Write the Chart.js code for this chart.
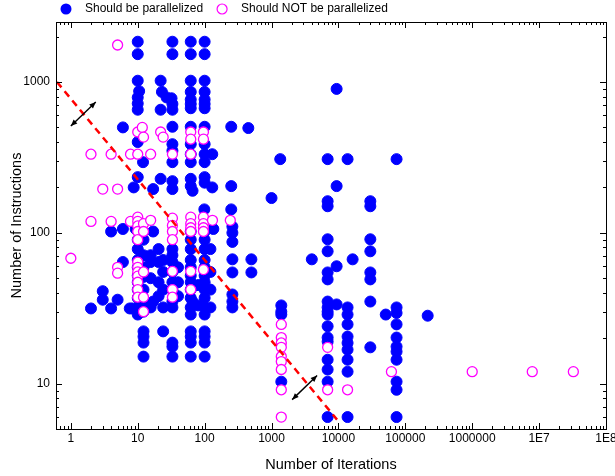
<!DOCTYPE html>
<html>
<head>
<meta charset="utf-8">
<script src="https://cdn.jsdelivr.net/npm/chart.js@4/dist/chart.umd.min.js"></script>
<style>
  html, body { margin: 0; padding: 0; background: #fff; }
  canvas { display: block; }
</style>
</head>
<body>
<canvas id="chart" width="615" height="476"></canvas>
<script>
// --- DATA ([iterations, instructions]) ---
const shouldParallelize = [
  // top rows
  [10, 1850], [10, 1530], [33, 1850], [33, 1530], [62, 1850], [62, 1530], [100, 1850], [100, 1530],
  [10, 1020], [22, 1020], [62, 1020], [100, 1020],
  [10.5, 870], [10, 790], [10, 720], [10, 655], [23, 860], [27, 790], [32, 780], [22, 655], [33, 655], [33, 715],
  [62, 860], [62, 765], [62, 715], [62, 670], [100, 860], [100, 765], [100, 715], [100, 670],
  [9400, 900],
  // ~500
  [6, 500], [33, 505], [62, 505], [100, 505], [250, 505], [450, 495],
  // 400 - 200
  [10, 400], [33, 387], [62, 387], [100, 387], [33, 350], [62, 332], [100, 332], [130, 332],
  [12, 294], [33, 294], [62, 294], [100, 294],
  [10, 234], [22, 228], [33, 220], [62, 228], [100, 234], [100, 215], [8.7, 200], [17, 195], [33, 195],
  [62, 204], [66, 190], [130, 200], [250, 204], [9400, 204],
  // isolated right side
  [1350, 308], [6900, 308], [13700, 308], [74000, 308], [1000, 170],
  [6900, 162], [6900, 150], [30000, 162], [30000, 150],
  // 150 - 90
  [99, 143], [250, 143], [135, 106], [260, 110], [260, 100], [260, 87],
  [260, 66.7], [260, 54.6], [260, 39], [260, 35], [260, 32], [500, 66.7], [500, 54.6],
  // left sparse
  [2, 31.5], [3, 41], [3, 36], [4, 31.5], [5, 36], [6, 64], [7.6, 31.5], [8.3, 31.5],
  [4, 102], [6, 106], [9.3, 106], [17, 102],
  // dense centre
  [10, 90], [10, 78], [10, 66], [10, 59], [10, 52], [10, 47], [10, 42], [10, 37], [10, 32], [10, 28.7],
  [12.2, 90], [12.2, 71], [12.2, 59], [12.2, 51], [12.2, 42], [12.2, 35], [12.2, 30],
  [12.2, 22.2], [12.2, 20.5], [12.2, 18.7], [12.2, 15.1],
  [15.6, 71], [15.6, 64], [15.6, 50], [15.6, 32], [17, 35],
  [20.5, 78], [20.5, 64], [20.5, 47], [20.5, 38],
  [24, 66], [24, 55], [24, 42], [24, 32], [24, 22.2],
  [33, 78], [33, 71], [33, 64], [33, 55], [33, 47], [33, 42], [33, 35], [33, 32],
  [33, 18.7], [33, 17.6], [33, 15.1],
  [40, 59], [40, 47], [40, 38],
  [62, 102], [62, 90], [62, 78], [62, 66], [62, 59], [62, 52], [62, 47], [62, 42], [62, 37], [62, 32], [62, 28.7],
  [62, 22.2], [62, 20.5], [62, 18.7], [62, 15.1], [66, 35], [80, 45], [80, 33],
  [100, 102], [100, 90], [100, 78], [100, 66], [100, 59], [100, 52], [100, 47], [100, 42], [100, 37], [100, 32],
  [100, 28.7], [100, 22.2], [100, 20.5], [100, 18.7], [100, 15.1],
  [122, 78], [122, 55], [122, 42], [122, 32],
  // right cluster
  [1400, 33], [1400, 30], [1400, 28.7], [1400, 10.3],
  [4000, 66.7], [9400, 60], [9400, 33.5], [16300, 66.7],
  [6900, 90.6], [6900, 75.4], [6900, 54.6], [6900, 49.1], [6900, 35], [6900, 32], [6900, 30], [6900, 28.7],
  [6900, 24], [6900, 20.2], [6900, 19], [6900, 14.4], [6900, 12.4], [6900, 10.3], [6900, 6.0],
  [13700, 32], [13700, 28.7], [13700, 24.7], [13700, 20.5], [13700, 18.6], [13700, 16.8], [13700, 14.4],
  [13700, 12], [13700, 6.0],
  [30000, 90.6], [30000, 75.4], [30000, 54.6], [30000, 49.1], [30000, 35], [30000, 17.4],
  [51000, 28.7],
  [74000, 32], [74000, 29.4], [74000, 24.7], [74000, 20.2], [74000, 17.6], [74000, 16.3], [74000, 14.4],
  [74000, 10.3], [74000, 9.1], [74000, 6.0],
  [216000, 28.2]
];

const shouldNotParallelize = [
  [1, 67.8], [2, 332], [2, 119], [3, 195], [5, 195], [4, 332], [4, 119], [5, 1760], [5, 59], [5, 54],
  [7.8, 332], [7.8, 119],
  [10, 466], [10, 332], [10, 127], [10, 119], [10, 111], [10, 102], [10, 90], [10, 64], [10, 59], [10, 55],
  [10, 51.6], [10, 47], [10, 42], [10, 37.4],
  [11.7, 500], [12.2, 431], [12.2, 115], [12.2, 102], [12.2, 55], [12.2, 37.4], [12.2, 30],
  [15.6, 332], [15.6, 121], [22, 466], [24, 431],
  [33, 332], [33, 125], [33, 112], [33, 102], [33, 90], [33, 55.5], [33, 42], [33, 37.4],
  [62, 466], [62, 418], [62, 332], [62, 127], [62, 115], [62, 108], [62, 102], [62, 55.5], [62, 42],
  [96, 466], [96, 418], [96, 127], [96, 115], [96, 108], [96, 102], [96, 57],
  [131, 121], [242, 121],
  [1400, 24.7], [1400, 20.2], [1400, 18.6], [1400, 17.4], [1400, 15.1], [1400, 14], [1400, 12.4],
  [1400, 9.1], [1400, 6.0],
  [6900, 17.4], [6900, 9.1], [13700, 9.1], [62000, 12],
  [1000000, 12], [7900000, 12], [32500000, 12]
];

// red dashed separator and the two double arrows (data units)
const guideLine = [[0.62, 1000], [9530, 5.77]];
const arrows = [
  [[1, 511], [2.36, 736]],
  [[2033, 7.83], [4800, 11.3]]
];

// axes
const X_MIN = 0.62, X_MAX = 1e8, Y_MIN = 5, Y_MAX = 2500;
const xMajorTicks = [1, 10, 100, 1000, 10000, 100000, 1000000, 1e7, 1e8];
const xTickLabels = ['1', '10', '100', '1000', '10000', '100000', '1000000', '1E7', '1E8'];
const yMajorTicks = [10, 100, 1000];
const yTickLabels = ['10', '100', '1000'];

const FONT = "'Liberation Sans', Arial, sans-serif";
const BLUE = '#0000ff';
const MAGENTA = '#ff00ff';

// major + minor (2..9) log ticks inside the range
function logTicks(min, max, majors) {
  const ticks = [];
  for (let e = Math.floor(Math.log10(min)); e <= Math.ceil(Math.log10(max)); e++) {
    for (let m = 1; m <= 9; m++) {
      const v = m === 1 ? Math.pow(10, e) : m * Math.pow(10, e);
      if (v < min || v > max) continue;
      const idx = majors.indexOf(v);
      ticks.push({ value: idx >= 0 ? majors[idx] : v, major: idx >= 0 });
    }
  }
  return ticks;
}

const toPts = arr => arr.map(([x, y]) => ({ x, y }));

// frame around the plot with inward ticks on all four sides
const frameTicks = {
  id: 'frameTicks',
  afterDraw(chart) {
    const { ctx, chartArea: a, scales: { x, y } } = chart;
    ctx.save();
    ctx.strokeStyle = '#000';
    ctx.lineWidth = 1;
    ctx.strokeRect(Math.round(a.left) + 0.5, Math.round(a.top) + 0.5,
      Math.round(a.right - a.left), Math.round(a.bottom - a.top));
    ctx.beginPath();
    x.ticks.forEach(t => {
      const px = Math.round(x.getPixelForValue(t.value)) + 0.5;
      const len = t.major ? 6 : 3;
      ctx.moveTo(px, a.bottom); ctx.lineTo(px, a.bottom - len);
      ctx.moveTo(px, a.top); ctx.lineTo(px, a.top + len);
    });
    y.ticks.forEach(t => {
      const py = Math.round(y.getPixelForValue(t.value)) + 0.5;
      const len = t.major ? 6 : 3;
      ctx.moveTo(a.left, py); ctx.lineTo(a.left + len, py);
      ctx.moveTo(a.right, py); ctx.lineTo(a.right - len, py);
    });
    ctx.stroke();
    ctx.restore();
  }
};

// black double-headed arrows
const arrowPlugin = {
  id: 'arrows',
  afterDatasetsDraw(chart) {
    const { ctx, scales: { x, y } } = chart;
    const head = (fx, fy, tx, ty) => {
      const ang = Math.atan2(ty - fy, tx - fx);
      ctx.beginPath();
      ctx.moveTo(tx, ty);
      ctx.lineTo(tx - 7 * Math.cos(ang - 0.4), ty - 7 * Math.sin(ang - 0.4));
      ctx.lineTo(tx - 7 * Math.cos(ang + 0.4), ty - 7 * Math.sin(ang + 0.4));
      ctx.closePath();
      ctx.fill();
    };
    ctx.save();
    ctx.strokeStyle = '#000';
    ctx.fillStyle = '#000';
    ctx.lineWidth = 1.4;
    arrows.forEach(([p, q]) => {
      const x1 = x.getPixelForValue(p[0]), y1 = y.getPixelForValue(p[1]);
      const x2 = x.getPixelForValue(q[0]), y2 = y.getPixelForValue(q[1]);
      ctx.beginPath(); ctx.moveTo(x1, y1); ctx.lineTo(x2, y2); ctx.stroke();
      head(x1, y1, x2, y2);
      head(x2, y2, x1, y1);
    });
    ctx.restore();
  }
};

// legend row above the plot
const legendRow = {
  id: 'legendRow',
  afterDraw(chart) {
    const { ctx, chartArea: a } = chart;
    ctx.save();
    ctx.font = '12px ' + FONT;
    ctx.textBaseline = 'middle';
    ctx.fillStyle = '#000';
    const yMid = 9;
    let cx = a.left + 10;
    chart.data.datasets.filter(d => d.legend).forEach(d => {
      ctx.beginPath();
      ctx.arc(cx, yMid, d.legend === 'filled' ? 5.5 : 5, 0, Math.PI * 2);
      if (d.legend === 'filled') {
        ctx.fillStyle = BLUE; ctx.fill();
      } else {
        ctx.strokeStyle = MAGENTA; ctx.lineWidth = 1.2; ctx.stroke();
      }
      ctx.fillStyle = '#000';
      ctx.fillText(d.label, cx + 19, yMid);
      cx += 19 + ctx.measureText(d.label).width + 19;
    });
    ctx.restore();
  }
};

document.addEventListener('DOMContentLoaded', () => {
  const ctx = document.getElementById('chart').getContext('2d');
  new Chart(ctx, {
    type: 'scatter',
    data: {
      datasets: [
        {
          label: 'Should be parallelized',
          legend: 'filled',
          data: toPts(shouldParallelize),
          backgroundColor: BLUE,
          borderColor: BLUE,
          borderWidth: 1,
          pointRadius: 5.5,
          order: 3
        },
        {
          label: 'Should NOT be parallelized',
          legend: 'open',
          data: toPts(shouldNotParallelize),
          backgroundColor: '#ffffff',
          borderColor: MAGENTA,
          borderWidth: 1.3,
          pointRadius: 5,
          order: 2
        },
        {
          label: 'guide',
          type: 'line',
          data: toPts(guideLine),
          borderColor: '#ff0000',
          borderWidth: 2.5,
          borderDash: [7, 5],
          pointRadius: 0,
          fill: false,
          order: 1
        }
      ]
    },
    options: {
      responsive: false,
      animation: false,
      layout: { padding: { top: 22, right: 9, left: 0, bottom: 0 } },
      plugins: { legend: { display: false }, tooltip: { enabled: false } },
      scales: {
        x: {
          type: 'logarithmic',
          min: X_MIN,
          max: X_MAX,
          grid: { display: false },
          border: { display: false },
          afterBuildTicks: s => { s.ticks = logTicks(X_MIN, X_MAX, xMajorTicks); },
          afterFit: s => { s.height = 47; },
          ticks: {
            autoSkip: false,
            maxRotation: 0,
            padding: -6,
            color: '#000',
            font: { family: FONT, size: 12 },
            callback: v => {
              const i = xMajorTicks.indexOf(v);
              return i >= 0 ? xTickLabels[i] : '';
            }
          },
          title: {
            display: true,
            text: 'Number of Iterations',
            color: '#000',
            font: { family: FONT, size: 14.5 },
            padding: { top: 0, bottom: 2 }
          }
        },
        y: {
          type: 'logarithmic',
          min: Y_MIN,
          max: Y_MAX,
          grid: { display: false },
          border: { display: false },
          afterBuildTicks: s => { s.ticks = logTicks(Y_MIN, Y_MAX, yMajorTicks); },
          afterFit: s => { s.width = 56; },
          ticks: {
            autoSkip: false,
            padding: -2,
            color: '#000',
            font: { family: FONT, size: 12 },
            callback: v => {
              const i = yMajorTicks.indexOf(v);
              return i >= 0 ? yTickLabels[i] : '';
            }
          },
          title: {
            display: true,
            text: 'Number of Instructions',
            color: '#000',
            font: { family: FONT, size: 14.5 },
            padding: { top: 8, bottom: 0 }
          }
        }
      }
    },
    plugins: [arrowPlugin, frameTicks, legendRow]
  });
});
</script>
</body>
</html>
